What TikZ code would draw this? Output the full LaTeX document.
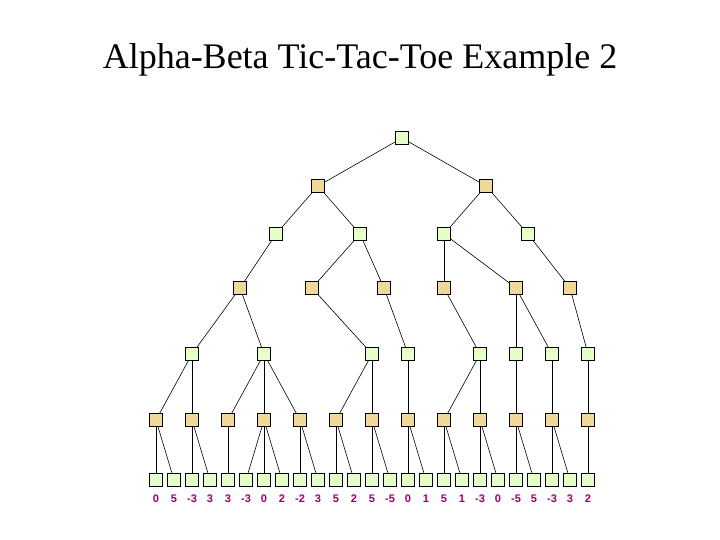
\documentclass[tikz,border=0pt]{standalone}
\usepackage{fontspec}
\setmainfont{Liberation Serif}
\newfontfamily\lab{Liberation Sans}
\definecolor{ng}{HTML}{E6FFC8}
\definecolor{nt}{HTML}{F0D898}
\definecolor{lc}{HTML}{990066}
\begin{document}
\begin{tikzpicture}[x=1pt,y=-1pt,
  gn/.style={draw,fill=ng,minimum size=13pt,inner sep=0pt,line width=0.6pt},
  tn/.style={draw,fill=nt,minimum size=13pt,inner sep=0pt,line width=0.6pt},
  ed/.style={line width=0.6pt},
  lb/.style={text=lc,font=\lab\bfseries\fontsize{11}{12}\selectfont}]
\useasboundingbox (0,0) rectangle (720,540);
\node at (360,60) {\fontsize{36}{40}\selectfont Alpha-Beta Tic-Tac-Toe Example 2};
% leaves
\foreach \i/\v in {0/0,1/5,2/-3,3/3,4/3,5/-3,6/0,7/2,8/-2,9/3,10/5,11/2,12/5,13/-5,14/0,15/1,16/5,17/1,18/-3,19/0,20/-5,21/5,22/-3,23/3,24/2}{
  \pgfmathsetmacro\xx{156+18*\i}
  \node[gn] (l\i) at (\xx,480) {};
  \node[lb] (t\i) at (\xx,499) {\v};
}
% level 5
\foreach \i/\x in {0/156,1/192,2/228,3/264,4/300,5/336,6/372,7/408,8/444,9/480,10/516,11/552,12/588}
  \node[tn] (e\i) at (\x,420) {};
\foreach \a/\b in {0/0,0/1,1/2,1/3,2/4,3/5,3/6,3/7,4/8,4/9,5/10,5/11,6/12,6/13,7/14,7/15,8/16,8/17,9/18,9/19,10/20,10/21,11/22,11/23,12/24}
  \draw[ed] (e\a) -- (l\b);
% level 4
\foreach \i/\x in {0/192,1/264,2/372,3/408,4/480,5/516,6/552,7/588}
  \node[gn] (d\i) at (\x,354) {};
\foreach \a/\b in {0/0,0/1,1/2,1/3,1/4,2/5,2/6,3/7,4/8,4/9,5/10,6/11,7/12}
  \draw[ed] (d\a) -- (e\b);
% level 3
\foreach \i/\x in {0/240,1/312,2/384,3/444,4/516,5/570}
  \node[tn] (c\i) at (\x,288) {};
\foreach \a/\b in {0/0,0/1,1/2,2/3,3/4,4/5,4/6,5/7}
  \draw[ed] (c\a) -- (d\b);
% level 2
\foreach \i/\x in {0/276,1/360,2/444,3/528}
  \node[gn] (b\i) at (\x,234) {};
\foreach \a/\b in {0/0,1/1,1/2,2/3,2/4,3/5}
  \draw[ed] (b\a) -- (c\b);
% level 1
\node[tn] (a0) at (318,186) {};
\node[tn] (a1) at (486,186) {};
\foreach \a/\b in {0/0,0/1,1/2,1/3}
  \draw[ed] (a\a) -- (b\b);
\node[gn] (r) at (402,138) {};
\draw[ed] (r) -- (a0);
\draw[ed] (r) -- (a1);
\end{tikzpicture}
\end{document}
